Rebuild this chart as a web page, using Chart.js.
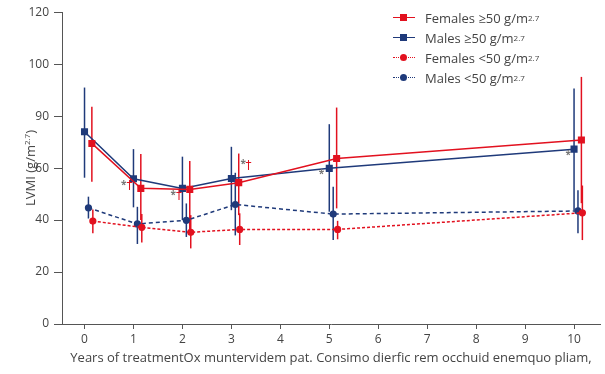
<!DOCTYPE html>
<html>
<head>
<meta charset="utf-8">
<script src="https://cdn.jsdelivr.net/npm/chart.js@4/dist/chart.umd.min.js"></script>
<style>
    body { margin: 0; background: #fff; }
    #wrap { position: relative; width: 605px; height: 374px; font-family: 'Open Sans', sans-serif; color: #444; }
    #yTitle { position: absolute; left: 30px; top: 168px; transform: translate(-50%, -50%) rotate(-90deg); font-size: 13px; line-height: 16px; white-space: nowrap; }
    sup { font-size: 8px; line-height: 0; vertical-align: 5px; }
    #legend { position: absolute; left: 393px; top: 8px; font-size: 13px; }
    .item { height: 20px; display: flex; align-items: center; white-space: nowrap; }
    .sym { position: relative; width: 22px; height: 20px; margin-right: 10px; }
    .ln { position: absolute; left: 0; right: 0; top: 9px; border-top-width: 1.5px; }
    .mk { position: absolute; left: 7px; top: 6px; width: 7px; height: 7px; }
    .dot { border-radius: 50%; }
</style>
</head>
<body>
<div id="wrap">
    <canvas id="chart" width="605" height="374"></canvas>
    <div id="yTitle">LVMI (g/m<sup>2.7</sup>)</div>
    <div id="legend"></div>
</div>
<script>
// visit years (x) and LVMI values
const years = [0, 1, 2, 3, 5, 10];
const xTicks = [0, 1, 2, 3, 4, 5, 6, 7, 8, 9, 10];
const yTicks = [0, 20, 40, 60, 80, 100, 120];
const yTickLabels = ['0', '20', '40', '60', '90', '100', '120'];

const femHigh   = [69.5, 52.2, 51.8, 54.4, 63.7, 70.8];
const femHighLo = [54.7, 40.0, 35.0, 41.9, 44.5, 46.5];
const femHighHi = [83.6, 65.4, 62.7, 65.6, 83.3, 95.1];

const maleHigh   = [74.0, 55.9, 52.2, 56.0, 59.9, 67.3];
const maleHighLo = [56.3, 44.9, 40.0, 43.8, 43.2, 43.8];
const maleHighHi = [91.0, 67.3, 64.4, 68.2, 76.9, 90.6];

const femLow   = [39.6, 37.2, 35.3, 36.4, 36.4, 42.8];
const femLowLo = [34.9, 31.4, 29.1, 30.4, 32.6, 32.3];
const femLowHi = [44.1, 42.3, 41.9, 42.6, 39.7, 53.3];

const maleLow   = [44.7, 38.5, 39.9, 46.0, 42.3, 43.5];
const maleLowLo = [40.6, 30.8, 33.5, 34.1, 32.3, 34.9];
const maleLowHi = [49.0, 45.1, 46.4, 58.2, 52.8, 51.5];

// significance marks (* vs baseline, † vs other group), in data units
const sigMarks = [
    { x: 0.80, y: 53.3, text: '*' }, { x: 0.92, y: 53.2, text: '†' },
    { x: 1.81, y: 49.6, text: '*' }, { x: 1.93, y: 49.2, text: '†' },
    { x: 3.24, y: 61.4, text: '*' }, { x: 3.35, y: 60.9, text: '†' },
    { x: 4.84, y: 57.7, text: '*' },
    { x: 9.88, y: 65.0, text: '*' }
];

const RED = '#e2111f';
const NAVY = '#1f3a7a';
const AXIS = '#555';

function series(label, vals, lo, hi, dodge, color, shape, dash) {
    return {
        label,
        data: years.map((yr, i) => ({ x: yr + dodge, y: vals[i] })),
        errLo: lo,
        errHi: hi,
        borderColor: color,
        backgroundColor: color,
        borderWidth: 1.5,
        borderDash: dash,
        pointStyle: shape,
        pointRadius: shape === 'rect' ? 5 : 3.6,
        pointBorderWidth: 0,
        pointHoverRadius: 5,
        tension: 0,
        fill: false
    };
}

const datasets = [
    series('Females ≥50', femHigh, femHighLo, femHighHi, 0.15, RED, 'rect', []),
    series('Males ≥50', maleHigh, maleHighLo, maleHighHi, 0, NAVY, 'rect', []),
    series('Females <50', femLow, femLowLo, femLowHi, 0.17, RED, 'circle', [3, 2]),
    series('Males <50', maleLow, maleLowLo, maleLowHi, 0.08, NAVY, 'circle', [4, 3])
];

// legend with superscripts
const legendEl = document.getElementById('legend');
datasets.forEach(ds => {
    const dashed = ds.borderDash.length > 0;
    const row = document.createElement('div');
    row.className = 'item';
    row.innerHTML = `<span class="sym"><span class="ln" style="border-top-style:${dashed ? 'dotted' : 'solid'};border-top-color:${ds.borderColor}"></span>` +
        `<span class="mk${ds.pointStyle === 'circle' ? ' dot' : ''}" style="background:${ds.borderColor}"></span></span>` +
        `${ds.label} g/m<sup>2.7</sup>`;
    legendEl.appendChild(row);
});

const errorBars = {
    id: 'errorBars',
    beforeDatasetsDraw(chart) {
        const { ctx, scales: { x, y } } = chart;
        ctx.save();
        ctx.lineWidth = 1.5;
        chart.data.datasets.forEach(ds => {
            ctx.strokeStyle = ds.borderColor;
            ds.data.forEach((p, i) => {
                const px = x.getPixelForValue(p.x);
                ctx.beginPath();
                ctx.moveTo(px, y.getPixelForValue(ds.errLo[i]));
                ctx.lineTo(px, y.getPixelForValue(ds.errHi[i]));
                ctx.stroke();
            });
        });
        ctx.restore();
    },
    afterDatasetsDraw(chart) {
        const { ctx, scales: { x, y }, chartArea } = chart;
        ctx.save();
        ctx.textAlign = 'center';
        ctx.textBaseline = 'middle';
        sigMarks.forEach(m => {
            ctx.fillStyle = m.text === '*' ? '#777' : RED;
            ctx.font = m.text === '*' ? 'bold 10px "Open Sans"' : '12px "DejaVu Sans"';
            ctx.fillText(m.text, x.getPixelForValue(m.x), y.getPixelForValue(m.y));
        });
        // x axis line runs a bit past the y axis
        ctx.strokeStyle = AXIS;
        ctx.lineWidth = 1;
        ctx.beginPath();
        ctx.moveTo(chartArea.left - 8, chartArea.bottom + 0.5);
        ctx.lineTo(chartArea.left, chartArea.bottom + 0.5);
        ctx.stroke();
        ctx.restore();
    }
};

new Chart(document.getElementById('chart'), {
    type: 'line',
    data: { datasets },
    plugins: [errorBars],
    options: {
        responsive: false,
        animation: false,
        devicePixelRatio: 1,
        layout: { padding: { top: 12, right: 5, left: 0, bottom: 0 } },
        plugins: { legend: { display: false }, tooltip: { enabled: false } },
        scales: {
            x: {
                type: 'linear',
                min: -0.46,
                max: 10.53,
                afterBuildTicks: s => { s.ticks = xTicks.map(v => ({ value: v })); },
                afterFit: s => { s.height = 50; },
                border: { color: AXIS, width: 1 },
                grid: { drawOnChartArea: false, tickLength: 5, color: AXIS },
                ticks: { color: '#444', font: { family: 'Open Sans', size: 12 }, padding: 3 },
                title: {
                    display: true,
                    text: 'Years of treatmentOx muntervidem pat. Consimo dierfic rem occhuid enemquo pliam,',
                    color: '#444',
                    font: { family: 'Open Sans', size: 13 },
                    padding: { top: 4, bottom: 8 }
                }
            },
            y: {
                min: 0,
                max: 120,
                afterBuildTicks: s => { s.ticks = yTicks.map(v => ({ value: v })); },
                afterFit: s => { s.width = 62; },
                border: { color: AXIS, width: 1 },
                grid: { drawOnChartArea: false, tickLength: 8, color: AXIS },
                ticks: {
                    color: '#444',
                    font: { family: 'Open Sans', size: 12 },
                    padding: 5,
                    callback: (v) => yTickLabels[yTicks.indexOf(v)]
                }
            }
        }
    }
});
</script>
</body>
</html>
